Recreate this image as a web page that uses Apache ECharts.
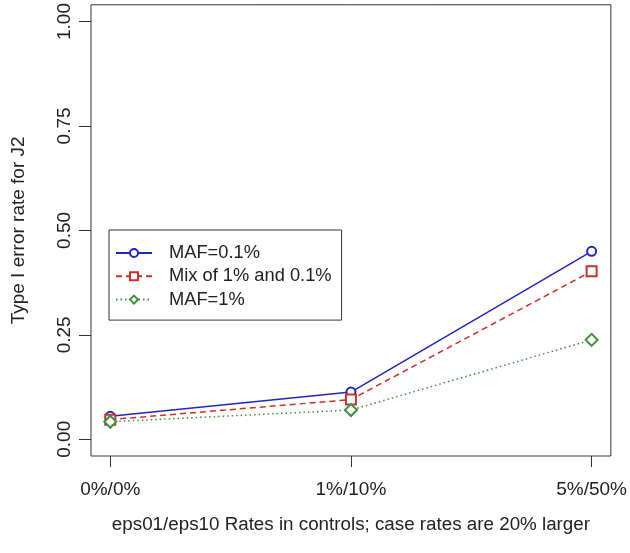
<!DOCTYPE html>
<html>
<head>
<meta charset="utf-8">
<script src="https://cdn.jsdelivr.net/npm/echarts@6/dist/echarts.min.js"></script>
<style>html,body{margin:0;padding:0;background:#fff;}#c{width:630px;height:553px;}</style>
</head>
<body>
<div id="c"></div>
<script>
var categories = ['0%/0%', '1%/10%', '5%/50%'];
var yTicks = [0, 0.25, 0.5, 0.75, 1];
var maf01 = [0.055, 0.113, 0.450];
var mix = [0.047, 0.095, 0.402];
var maf1 = [0.042, 0.070, 0.238];
var seriesNames = ['MAF=0.1%', 'Mix of 1% and 0.1%', 'MAF=1%'];

function pts(arr){ return arr.map(function(v,i){ return [i, v]; }); }

var FONT = 'Liberation Sans, Arial, sans-serif';
var chart = echarts.init(document.getElementById('c'), null, {renderer:'canvas'});
chart.setOption({
  animation: false,
  backgroundColor: '#fff',
  grid: {left: 91, right: 17.5, top: 4, bottom: 97, show: true, borderColor: '#333', borderWidth: 1, backgroundColor: 'transparent'},
  xAxis: {
    type: 'value', min: -0.08, max: 2.08,
    axisLine: {show: false, onZero: false},
    splitLine: {show: false},
    axisTick: {show: true, customValues: [0,1,2], length: 11, lineStyle: {color: '#333', width: 1}},
    axisLabel: {customValues: [0,1,2], margin: 24, color: '#222', fontSize: 19, fontFamily: FONT,
      formatter: function(v){ return categories[Math.round(v)]; }},
    name: 'eps01/eps10 Rates in controls; case rates are 20% larger',
    nameLocation: 'middle', nameGap: 59,
    nameTextStyle: {color: '#222', fontSize: 18.8, fontFamily: FONT}
  },
  yAxis: {
    type: 'value', min: -0.04, max: 1.04,
    axisLine: {show: false, onZero: false},
    splitLine: {show: false},
    axisTick: {show: true, customValues: yTicks, length: 12, lineStyle: {color: '#333', width: 1}},
    axisLabel: {customValues: yTicks, rotate: 90, margin: 17, color: '#222', fontSize: 19, fontFamily: FONT,
      formatter: function(v){ return v.toFixed(2); }},
    name: 'Type I error rate for J2',
    nameLocation: 'middle', nameGap: 63,
    nameTextStyle: {color: '#222', fontSize: 19, fontFamily: FONT}
  },
  legend: {
    left: 109, top: 230, orient: 'vertical',
    padding: [14, 10, 11.5, 6],
    itemWidth: 36, itemHeight: 10, itemGap: 5.3,
    backgroundColor: '#fff', borderColor: '#333', borderWidth: 1, borderRadius: 0,
    textStyle: {color: '#222', fontSize: 18.3, lineHeight: 18, fontFamily: FONT, padding: [0,0,0,12]},
    data: seriesNames
  },
  series: [
    {name: seriesNames[0], type: 'line', data: pts(maf01), symbol: 'emptyCircle', symbolSize: 9,
     itemStyle: {color: '#2424B8', borderWidth: 1.5}, lineStyle: {color: '#2424B8', width: 1.5, type: 'solid'}},
    {name: seriesNames[1], type: 'line', data: pts(mix), symbol: 'emptyRect', symbolSize: 10,
     itemStyle: {color: '#CC2E2E', borderWidth: 1.5}, lineStyle: {color: '#CC2E2E', width: 1.5, type: [6,4]}},
    {name: seriesNames[2], type: 'line', data: pts(maf1), symbol: 'emptyDiamond', symbolSize: 12,
     itemStyle: {color: '#3F8F3F', borderWidth: 1.2}, lineStyle: {color: '#3F8F3F', width: 1.5, type: [1.5,3]}}
  ]
});
</script>
</body>
</html>
